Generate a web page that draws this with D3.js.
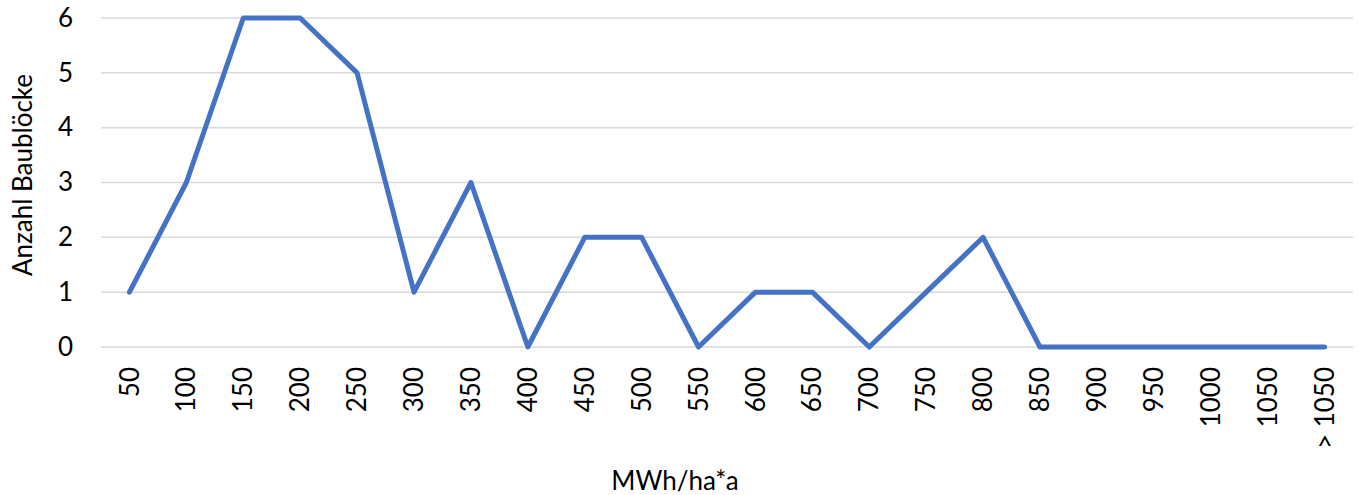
<!DOCTYPE html>
<html><head><meta charset="utf-8">
<script src="https://cdn.jsdelivr.net/npm/d3@7"></script>
<style>body{margin:0;background:#fff;} svg{display:block;font-family:Lato,"Open Sans","Noto Sans",sans-serif;}</style>
</head><body><svg id="c" width="1358" height="495"></svg>
<script>
const categories = ["50","100","150","200","250","300","350","400","450","500","550","600","650","700","750","800","850","900","950","1000","1050","> 1050"];
const values = [1,3,6,6,5,1,3,0,2,2,0,1,1,0,1,2,0,0,0,0,0,0];
const yTicks = [0,1,2,3,4,5,6];
const xTitle = "MWh/ha*a";
const yTitle = "Anzahl Baublöcke";

(function(){
const svg = d3.select("#c");
const mLeft = 101, mRight = 1353, mTop = 18, mBottom = 347;
const fs = 26;
const x = d3.scaleBand().domain(categories).range([mLeft, mRight]);
const y = d3.scaleLinear().domain([0, 6]).range([mBottom, mTop]);

svg.append("g").selectAll("line").data(yTicks).join("line")
  .attr("x1", mLeft).attr("x2", mRight)
  .attr("y1", d => y(d)).attr("y2", d => y(d))
  .attr("stroke", "#d9d9d9").attr("stroke-width", 1.5);

const ya = svg.append("g").attr("transform", `translate(${mLeft},0)`)
  .call(d3.axisLeft(y).tickValues(yTicks).tickFormat(d3.format("d")).tickSize(0).tickPadding(28));
ya.select(".domain").remove();
ya.attr("font-family", null).attr("font-size", null);
ya.selectAll("text").attr("font-size", fs).attr("fill", "#000");

const xa = svg.append("g").attr("transform", `translate(0,${mBottom})`)
  .call(d3.axisBottom(x).tickSize(0));
xa.select(".domain").remove();
xa.attr("font-family", null).attr("font-size", null);
xa.selectAll("text").attr("font-size", fs).attr("fill", "#000")
  .attr("transform", "rotate(-90)").attr("text-anchor", "end")
  .attr("x", -20).attr("y", 0).attr("dy", "0.35em");

const line = d3.line().x((d, i) => x(categories[i]) + x.bandwidth() / 2).y(d => y(d));
svg.append("path").datum(values).attr("d", line)
  .attr("fill", "none").attr("stroke", "#4472C4").attr("stroke-width", 5)
  .attr("stroke-linejoin", "round").attr("stroke-linecap", "round");

svg.append("text").attr("x", 675).attr("y", 490).attr("text-anchor", "middle")
  .attr("font-size", fs).attr("fill", "#000").text(xTitle);
svg.append("text").attr("transform", "translate(32,175) rotate(-90)").attr("text-anchor", "middle")
  .attr("font-size", fs).attr("fill", "#000").text(yTitle);
})();
</script></body></html>
